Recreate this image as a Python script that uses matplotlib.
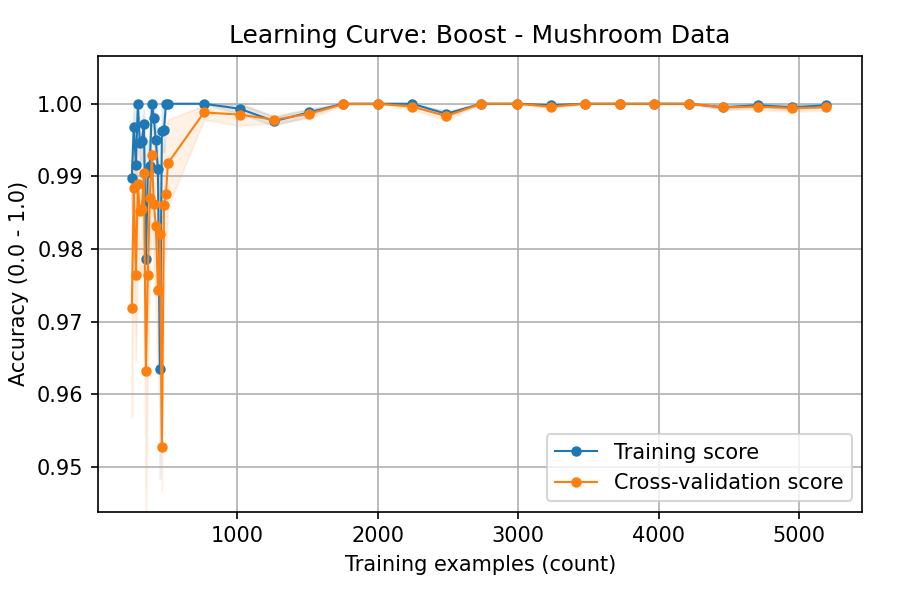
import numpy as np
import matplotlib
matplotlib.use("Agg")
import matplotlib.pyplot as plt

train_sizes = [250, 264, 279, 293, 307, 321, 336, 350, 364, 378, 393, 407, 421, 436, 450, 464, 479, 493, 507,
               764, 1019, 1264, 1510, 1755, 2000, 2245, 2490, 2735, 2990, 3235, 3480, 3725, 3970, 4215,
               4460, 4705, 4950, 5195]
train_mean = [0.9898, 0.9968, 0.9916, 1.0, 0.9946, 0.9948, 0.9972, 0.9786, 0.9906, 0.9914, 1.0, 0.9980,
              0.9950, 0.9910, 0.9634, 0.9963, 0.9964, 1.0, 1.0,
              1.0, 0.9993, 0.9976, 0.9988, 1.0, 1.0, 1.0, 0.9986, 1.0, 1.0, 0.9998, 1.0, 1.0, 1.0, 1.0,
              0.9995, 0.9998, 0.9995, 0.9998]
train_std = [0.004, 0.003, 0.004, 0.0, 0.003, 0.003, 0.002, 0.01, 0.004, 0.004, 0.0, 0.002,
             0.003, 0.004, 0.015, 0.003, 0.003, 0.0, 0.0,
             0.0, 0.0007, 0.0006, 0.0005, 0.0, 0.0, 0.0, 0.0004, 0.0, 0.0, 0.0002, 0.0, 0.0, 0.0, 0.0,
             0.0003, 0.0002, 0.0004, 0.0002]
test_mean = [0.9718, 0.9884, 0.9764, 0.9890, 0.9852, 0.9855, 0.9904, 0.9632, 0.9764, 0.9870, 0.9929, 0.9862,
             0.9832, 0.9744, 0.9820, 0.9527, 0.9860, 0.9875, 0.9918,
             0.9988, 0.9985, 0.9978, 0.9986, 0.99995, 1.0, 0.9996, 0.9983, 1.0, 1.0, 0.9996, 1.0, 1.0,
             1.0, 1.0, 0.9995, 0.9996, 0.9994, 0.9995]
test_std = [0.015, 0.008, 0.012, 0.008, 0.009, 0.009, 0.007, 0.02, 0.012, 0.009, 0.006, 0.009,
            0.01, 0.012, 0.01, 0.006, 0.008, 0.008, 0.006,
            0.001, 0.0015, 0.0005, 0.0006, 0.0002, 0.0, 0.0004, 0.0006, 0.0, 0.0, 0.0003, 0.0, 0.0,
            0.0, 0.0, 0.0003, 0.0004, 0.0005, 0.0004]

x = np.array(train_sizes)
tm, ts = np.array(train_mean), np.array(train_std)
vm, vs = np.array(test_mean), np.array(test_std)

fig, ax = plt.subplots(figsize=(6, 4), dpi=150)
fig.subplots_adjust(left=0.109, right=0.958, top=0.907, bottom=0.147)
ax.fill_between(x, tm - ts, tm + ts, alpha=0.1, color="C0")
ax.fill_between(x, vm - vs, vm + vs, alpha=0.1, color="C1")
ax.plot(x, tm, "o-", color="C0", lw=1, ms=4, label="Training score")
ax.plot(x, vm, "o-", color="C1", lw=1, ms=4, label="Cross-validation score")

ax.set_xlim(10, 5450)
ax.set_xticks([1000, 2000, 3000, 4000, 5000])
ax.set_ylim(0.9438, 1.0066)
ax.set_title("Learning Curve: Boost - Mushroom Data")
ax.set_xlabel("Training examples (count)")
ax.set_ylabel("Accuracy (0.0 - 1.0)")
ax.grid(True)
ax.legend(loc="lower right")
fig.savefig("out.png", dpi=150)
